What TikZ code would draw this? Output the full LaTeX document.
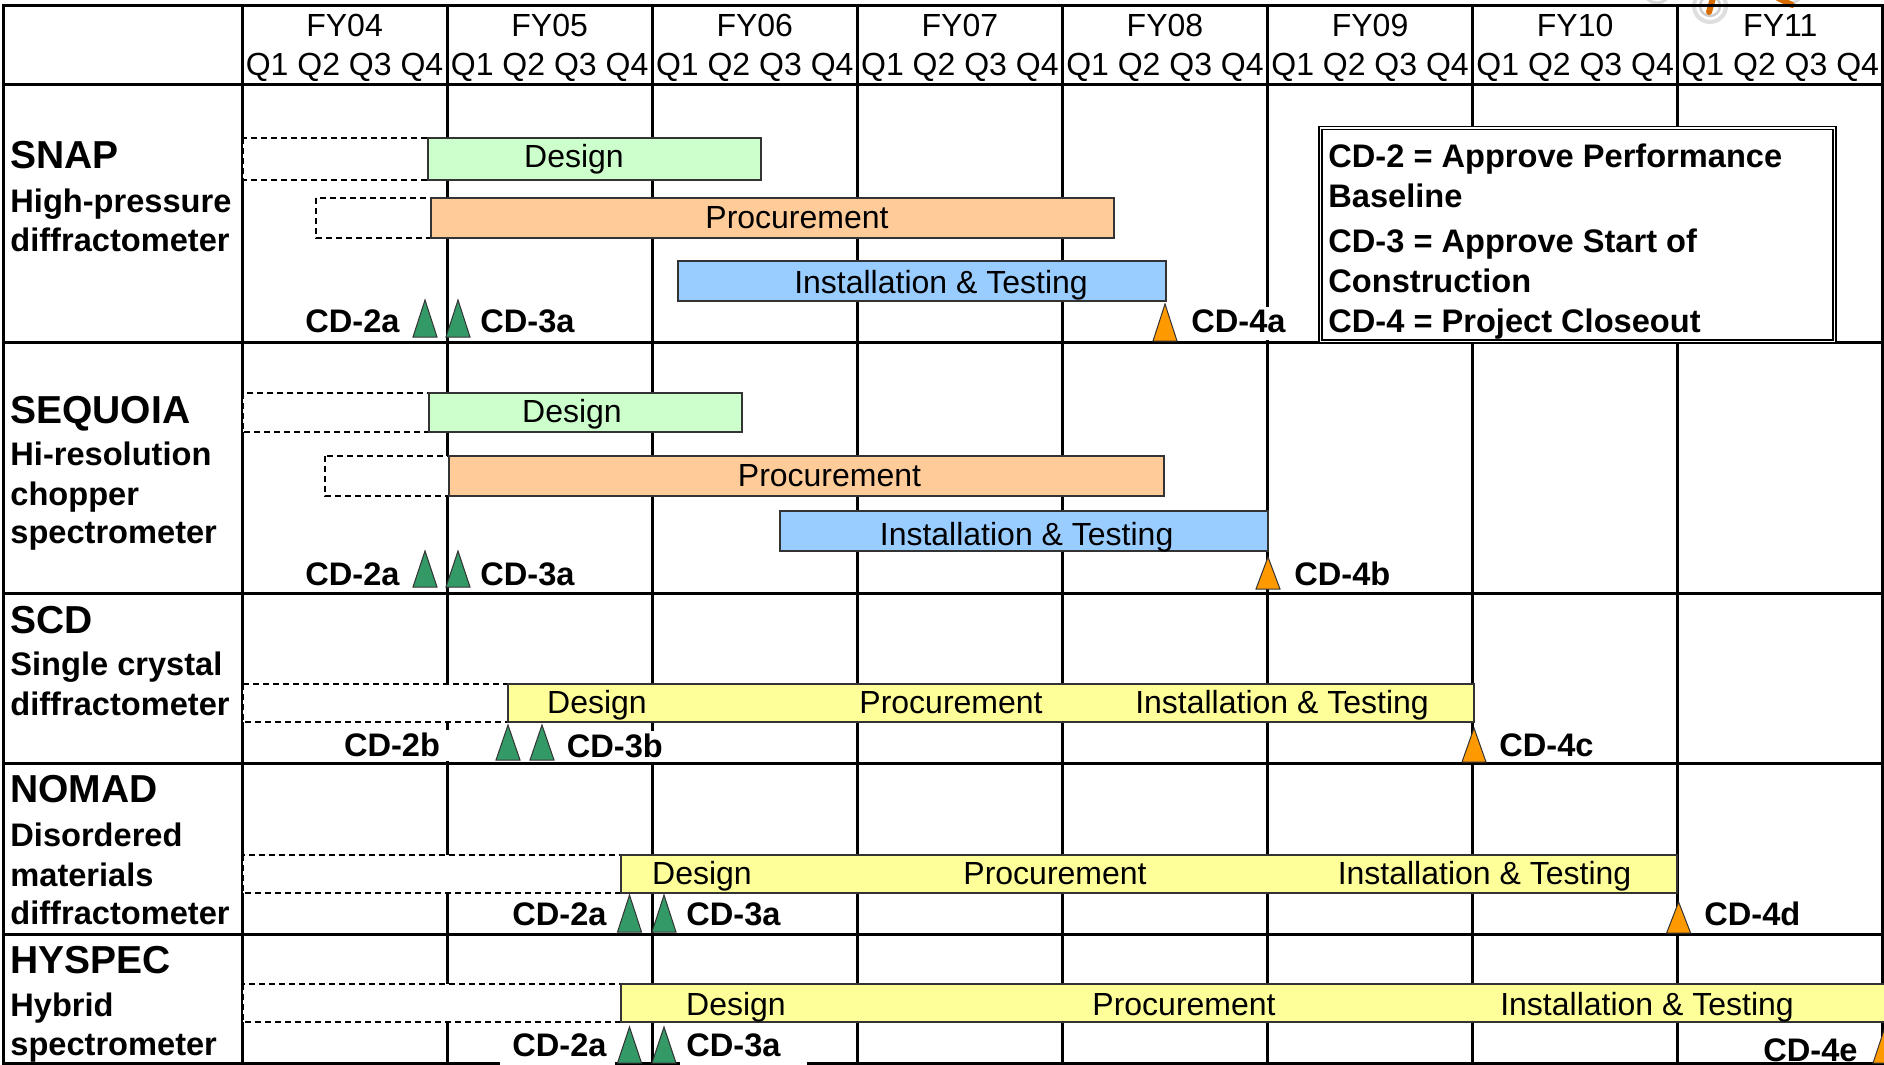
\documentclass[tikz,border=0pt]{standalone}
\usepackage{fontspec}
\setmainfont{Liberation Sans}
\definecolor{cdesign}{HTML}{CCFFCC}
\definecolor{cproc}{HTML}{FFCC99}
\definecolor{cinst}{HTML}{99CCFF}
\definecolor{cyel}{HTML}{FFFF99}
\definecolor{mgreen}{HTML}{339966}
\definecolor{morange}{HTML}{FF9900}
\newcommand\regf{\fontsize{16pt}{19pt}\selectfont}
\newcommand\bldf{\bfseries\fontsize{16.3pt}{19pt}\selectfont}
\newcommand\ttlf{\bfseries\fontsize{19.5pt}{23pt}\selectfont}
\newcommand\mtri[4]{\draw[#1] ({#2-12},#4) -- (#2,#3) -- ({#2+12},#4) -- cycle;}
\tikzset{
  gridline/.style={line width=1.5pt, line cap=rect},
  barbox/.style={draw=black!80, line width=0.75pt},
  dbox/.style={draw=black, fill=white, dash pattern=on 3pt off 2pt, line width=0.6pt},
  txt/.style={font=\regf, inner sep=0pt, anchor=base},
  cdl/.style={font=\bldf, inner sep=0pt},
  rowtitle/.style={font=\ttlf, inner sep=0pt, anchor=base west},
  rowsub/.style={font=\bldf, inner sep=0pt, anchor=base west},
  gtri/.style={draw=black!80, line width=0.5pt, fill=mgreen},
  otri/.style={draw=black!80, line width=0.5pt, fill=morange},
  legendbox/.style={draw=black, line width=0.75pt, double=white, double distance=0.75pt, fill=white},
}
\begin{document}
\begin{tikzpicture}[x=0.5pt,y=-0.5pt]
\useasboundingbox (0,0) rectangle (1884,1065);
\fill[white] (0,0) rectangle (1884,1065);
% clip-art fragment at top right
\draw[gray!30, line width=1.5pt] (1657,-10) circle (13);
\draw[gray!25, line width=2pt] (1710,6) circle (16);
\draw[gray!40, line width=1.2pt] (1710,6) circle (10);
\draw[orange!85!black, line width=3pt, line cap=round] (1713,-2) -- (1709,12);
\draw[gray!30, line width=1.5pt] (1790,-10) circle (13);
\draw[orange!85!black, line width=3pt, line cap=round] (1778,-2) -- (1792,5);
% grid
\foreach \yy in {6,85,342,593,763,934,1063}
  \draw[gridline] (3,\yy) -- (1883,\yy);
\draw[gridline] (3,6) -- (3,1063);
\foreach \k in {0,...,8}
  \draw[gridline] ({242+205.1*\k},6) -- ({242+205.1*\k},1063);
% header
\foreach \k/\fy in {0/04,1/05,2/06,3/07,4/08,5/09,6/10,7/11}{
  \node[txt] (fy\fy) at ({242+205.1*(\k+0.5)},36.7) {FY\fy};
  \node[txt] (q\fy) at ({242+205.1*(\k+0.5)},76) {Q1 Q2 Q3 Q4};
}
% row labels
\node[rowtitle] (snapT) at (10,169) {SNAP};
\node[rowsub] (snapS1) at (10,213) {High-pressure};
\node[rowsub] (snapS2) at (10,251) {diffractometer};
\node[rowtitle] (seqT) at (10,423) {SEQUOIA};
\node[rowsub] (seqS1) at (10,465) {Hi-resolution};
\node[rowsub] (seqS2) at (10,505) {chopper};
\node[rowsub] (seqS3) at (10,543) {spectrometer};
\node[rowtitle] (scdT) at (10,633) {SCD};
\node[rowsub] (scdS1) at (10,675) {Single crystal};
\node[rowsub] (scdS2) at (10,715) {diffractometer};
\node[rowtitle] (nomT) at (10,802) {NOMAD};
\node[rowsub] (nomS1) at (10,846) {Disordered};
\node[rowsub] (nomS2) at (10,886) {materials};
\node[rowsub] (nomS3) at (10,924) {diffractometer};
\node[rowtitle] (hysT) at (10,973) {HYSPEC};
\node[rowsub] (hysS1) at (10,1016) {Hybrid};
\node[rowsub] (hysS2) at (10,1055) {spectrometer};
% SNAP bars
\draw[dbox] (243,138) rectangle (428,180);
\draw[barbox, fill=cdesign] (428,138) rectangle (761,180);
\draw[dbox] (316,198) rectangle (431,238);
\draw[barbox, fill=cproc] (431,198) rectangle (1114,238);
\draw[barbox, fill=cinst] (678,261) rectangle (1166,301);
\node[txt] (snapD) at (574,167) {Design};
\node[txt] (snapP) at (797,228.5) {Procurement};
\node[txt] (snapI) at (941,293) {Installation \& Testing};
% SEQUOIA bars
\draw[dbox] (243,393) rectangle (429,432);
\draw[barbox, fill=cdesign] (429,393) rectangle (742,432);
\draw[dbox] (325,456) rectangle (449,496);
\draw[barbox, fill=cproc] (449,456) rectangle (1164,496);
\draw[barbox, fill=cinst] (780,511) rectangle (1268,551);
\node[txt] (seqD) at (572,422) {Design};
\node[txt] (seqP) at (829.5,486.5) {Procurement};
\node[txt] (seqI) at (1026.6,545) {Installation \& Testing};
% SCD bar
\draw[dbox] (243,684) rectangle (508,722);
\draw[barbox, fill=cyel] (508,684) rectangle (1474,722);
\node[txt] (scdD) at (597,713.5) {Design};
\node[txt] (scdP) at (951,713.5) {Procurement};
\node[txt] (scdI) at (1282,713.5) {Installation \& Testing};
% NOMAD bar
\draw[dbox] (243,855) rectangle (621,893);
\draw[barbox, fill=cyel] (621,855) rectangle (1677,893);
\node[txt] (nomD) at (702,884) {Design};
\node[txt] (nomP) at (1055,884) {Procurement};
\node[txt] (nomI) at (1484.5,884) {Installation \& Testing};
% HYSPEC bar
\draw[dbox] (243,984) rectangle (621,1022);
\draw[barbox, fill=cyel] (621,984) rectangle (1900,1022);
\node[txt] (hysD) at (736,1015.5) {Design};
\node[txt] (hysP) at (1184,1015.5) {Procurement};
\node[txt] (hysI) at (1647,1015.5) {Installation \& Testing};
% milestones SNAP
\mtri{gtri}{425}{300}{337}
\mtri{gtri}{458}{300}{337}
\node[cdl, anchor=base east] (snap2) at (400,332) {CD-2a};
\node[cdl, anchor=base west] (snap3) at (480,332) {CD-3a};
\node[cdl, anchor=base west, fill=white, inner xsep=3pt, inner ysep=1pt, text depth=3pt] (snap4) at (1185,332) {CD-4a};
\mtri{otri}{1165}{304}{341}
% milestones SEQUOIA
\mtri{gtri}{425}{551}{587}
\mtri{gtri}{458}{551}{587}
\node[cdl, anchor=base east] (seq2) at (400,585) {CD-2a};
\node[cdl, anchor=base west] (seq3) at (480,585) {CD-3a};
\mtri{otri}{1268}{557}{589}
\node[cdl, anchor=base west] (seq4) at (1294,585) {CD-4b};
% milestones SCD
\node[cdl, anchor=base, fill=white, inner xsep=6pt, inner ysep=1.25pt, text depth=1.25pt] (scd2) at (392,756) {CD-2b};
\mtri{gtri}{508}{725}{760}
\mtri{gtri}{542}{725}{760}
\node[cdl, anchor=base west, fill=white, inner xsep=3pt, inner ysep=1pt, text depth=1.5pt] (scd3) at (560.5,757) {CD-3b};
\mtri{otri}{1474}{728}{762}
\node[cdl, anchor=base west] (scd4) at (1499,756) {CD-4c};
% milestones NOMAD
\mtri{gtri}{629.5}{895}{932}
\mtri{gtri}{664}{895}{932}
\node[cdl, anchor=base east] (nom2) at (607,925) {CD-2a};
\node[cdl, anchor=base west] (nom3) at (686,925) {CD-3a};
\mtri{otri}{1678.6}{902}{933}
\node[cdl, anchor=base west] (nom4) at (1704,925) {CD-4d};
% milestones HYSPEC
\fill[white] (500,1027) rectangle (615,1070);
\fill[white] (680,1027) rectangle (807,1070);
\mtri{gtri}{629.5}{1027}{1063}
\mtri{gtri}{664}{1027}{1063}
\node[cdl, anchor=base east] (hys2) at (607,1056.5) {CD-2a};
\node[cdl, anchor=base west] (hys3) at (686,1056.5) {CD-3a};
\node[cdl, anchor=base west] (hys4) at (1763,1061) {CD-4e};
\mtri{otri}{1885}{1027}{1063}
% legend
\draw[legendbox] (1320.3,128) rectangle (1834.5,341.5);
\node[cdl, anchor=base west] (leg1) at (1328,167) {CD-2 = Approve Performance};
\node[cdl, anchor=base west] (leg2) at (1328,207) {Baseline};
\node[cdl, anchor=base west] (leg3) at (1328,252) {CD-3 = Approve Start of};
\node[cdl, anchor=base west] (leg4) at (1328,292) {Construction};
\node[cdl, anchor=base west] (leg5) at (1328,332) {CD-4 = Project Closeout};
\end{tikzpicture}
\end{document}
